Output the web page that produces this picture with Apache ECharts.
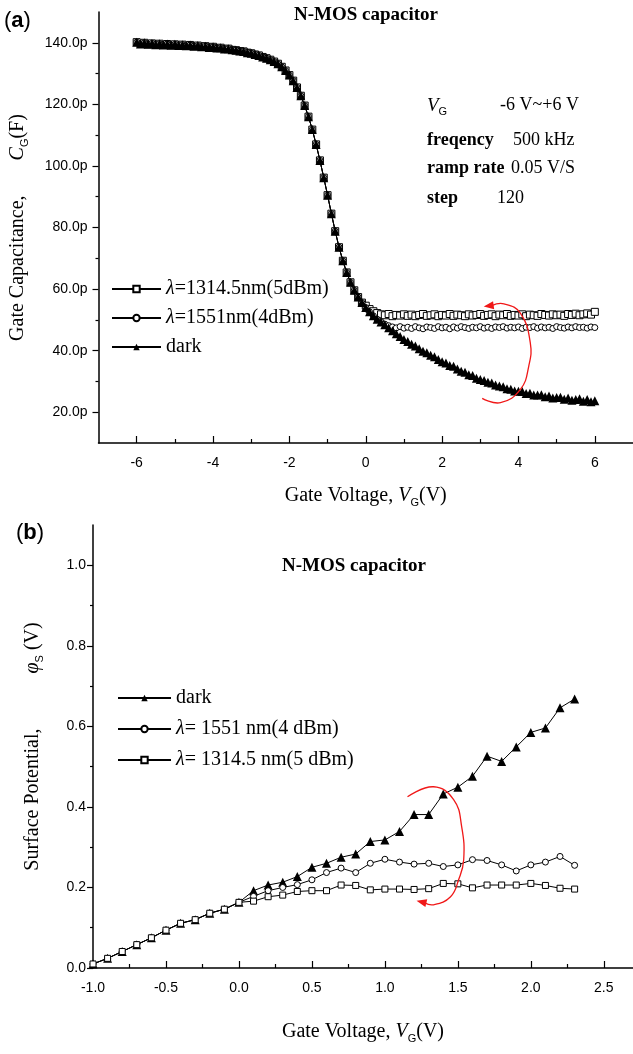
<!DOCTYPE html>
<html><head><meta charset="utf-8">
<script src="https://cdn.jsdelivr.net/npm/echarts@6/dist/echarts.min.js"></script>
<style>html,body{margin:0;padding:0;background:#fff}#c{width:633px;height:1054px}</style>
</head><body><div id="c"></div>
<script>
// ---------- Panel (a): C-V curves ----------
const vgA = [-6.0,-5.9,-5.8,-5.7,-5.6,-5.5,-5.4,-5.3,-5.2,-5.1,-5.0,-4.9,-4.8,-4.7,-4.6,-4.5,-4.4,-4.3,-4.2,-4.1,
-4.0,-3.9,-3.8,-3.7,-3.6,-3.5,-3.4,-3.3,-3.2,-3.1,-3.0,-2.9,-2.8,-2.7,-2.6,-2.5,-2.4,-2.3,-2.2,-2.1,
-2.0,-1.9,-1.8,-1.7,-1.6,-1.5,-1.4,-1.3,-1.2,-1.1,-1.0,-0.9,-0.8,-0.7,-0.6,-0.5,-0.4,-0.3,-0.2,-0.1,
0.0,0.1,0.2,0.3,0.4,0.5,0.6,0.7,0.8,0.9,1.0,1.1,1.2,1.3,1.4,1.5,1.6,1.7,1.8,1.9,
2.0,2.1,2.2,2.3,2.4,2.5,2.6,2.7,2.8,2.9,3.0,3.1,3.2,3.3,3.4,3.5,3.6,3.7,3.8,3.9,
4.0,4.1,4.2,4.3,4.4,4.5,4.6,4.7,4.8,4.9,5.0,5.1,5.2,5.3,5.4,5.5,5.6,5.7,5.8,5.9,6.0];
// dark capacitance (pF)
const darkA = [140.2,139.6,140.0,139.5,139.8,139.4,139.7,139.3,139.6,139.2,139.5,139.1,139.4,139.0,139.3,138.9,139.1,138.7,138.9,138.5,
138.7,138.3,138.4,138.0,138.1,137.7,137.6,137.3,137.2,136.8,136.6,136.2,135.9,135.4,135.0,134.5,133.9,133.2,132.2,131.0,
129.5,127.7,125.5,122.8,119.6,116.0,111.8,107.0,101.8,96.2,90.5,84.5,78.8,73.6,69.2,65.4,62.2,59.6,57.4,55.6,
54.0,52.6,51.3,50.2,49.3,48.4,47.4,46.5,45.5,44.6,43.6,43.0,42.1,41.5,40.6,39.8,39.3,38.5,38.0,37.1,
36.4,36.0,35.2,34.9,34.0,33.3,33.0,32.2,31.9,31.0,30.6,30.3,29.7,29.5,28.8,28.5,28.3,27.6,27.5,26.9,
26.8,26.7,26.1,26.2,25.6,25.6,25.7,25.0,25.3,24.6,24.8,24.9,24.2,24.6,23.9,24.1,24.4,23.6,24.1,23.4,23.7];
// lambda=1314.5 nm: identical to dark below 0 V (first 60 points), then these values from 0.0 V to 6.0 V
const sqTailA = [54.6,53.5,52.8,52.2,51.8,51.5,51.9,51.2,51.6,51.4,51.8,
51.3,51.7,51.2,51.6,51.9,51.3,51.5,51.8,51.2,51.6,
51.4,51.9,51.3,51.7,51.5,51.2,51.8,51.4,51.6,51.9,
51.3,51.6,51.8,51.2,51.7,51.5,51.9,51.3,51.6,51.4,
51.8,51.2,51.7,51.5,51.3,51.9,51.6,51.4,51.8,51.5,
51.7,51.3,51.9,51.6,52.0,51.5,51.8,52.1,51.7,52.6];
// lambda=1551 nm: identical to dark up to 0.3 V (first 64 points), then these values from 0.4 V to 6.0 V
const ciTailA = [49.4,48.6,48.1,47.7,47.4,47.8,47.3,
47.6,47.2,47.8,47.4,47.1,47.7,47.5,47.2,47.8,47.4,
47.6,47.1,47.7,47.3,47.8,47.5,47.2,47.6,47.4,47.8,
47.3,47.6,47.2,47.7,47.5,47.8,47.3,47.6,47.4,47.7,
47.2,47.6,47.5,47.8,47.3,47.7,47.4,47.6,47.2,47.8,
47.5,47.3,47.7,47.4,47.8,47.5,47.6,47.3,47.7,47.5];
const sqA = darkA.slice(0, 60).concat(sqTailA);
const ciA = darkA.slice(0, 64).concat(ciTailA);

const xLabelsA = [-6,-4,-2,0,2,4,6];
const xMinorA = [-5,-3,-1,1,3,5];
const yLabelsA = [20,40,60,80,100,120,140];
const yMinorA = [30,50,70,90,110,130];
const namesA = ['λ=1314.5nm(5dBm)', 'λ=1551nm(4dBm)', 'dark'];

// ---------- Panel (b): surface potential ----------
const vgB = [-1.0,-0.9,-0.8,-0.7,-0.6,-0.5,-0.4,-0.3,-0.2,-0.1,0.0,0.1,0.2,0.3,0.4,0.5,0.6,0.7,0.8,0.9,1.0,
1.1,1.2,1.3,1.4,1.5,1.6,1.7,1.8,1.9,2.0,2.1,2.2,2.3];
const darkB = [0.010,0.024,0.041,0.058,0.075,0.094,0.111,0.120,0.136,0.146,0.163,
0.192,0.206,0.213,0.227,0.250,0.260,0.275,0.283,0.314,0.318,
0.339,0.381,0.381,0.432,0.449,0.476,0.526,0.513,0.549,0.585,
0.596,0.646,0.668];
// light series coincide with dark from -1.0 V to 0.0 V (first 11 points), then:
const ciTailB = [0.178,0.192,0.200,0.207,0.219,0.237,0.248,0.237,0.260,0.270,
0.263,0.258,0.260,0.252,0.256,0.269,0.267,0.256,0.241,0.256,
0.263,0.277,0.255];
const sqTailB = [0.166,0.177,0.181,0.190,0.192,0.192,0.206,0.205,0.194,0.196,
0.196,0.195,0.197,0.210,0.209,0.199,0.206,0.206,0.206,0.210,
0.205,0.198,0.196];
const ciB = darkB.slice(0, 11).concat(ciTailB);
const sqB = darkB.slice(0, 11).concat(sqTailB);

const xLabelsB = [-1.0,-0.5,0.0,0.5,1.0,1.5,2.0,2.5];
const xMinorB = [-0.75,-0.25,0.25,0.75,1.25,1.75,2.25];
const yLabelsB = [0.0,0.2,0.4,0.6,0.8,1.0];
const yMinorB = [0.1,0.3,0.5,0.7,0.9];
const namesB = ['dark', 'λ= 1551 nm(4 dBm)', 'λ= 1314.5 nm(5 dBm)'];

// red rotation arrows (data coordinates of each panel)
const arrowA = [[3.05,24.5],[3.53,23.1],[4.05,27.4],[4.27,35.0],[4.31,42.5],[4.05,52.2],[3.62,55.2],[3.09,54.3]];
const arrowB = [[1.155,0.425],[1.333,0.450],[1.471,0.418],[1.526,0.351],[1.540,0.269],[1.505,0.219],[1.450,0.177],[1.333,0.157],[1.217,0.167]];

// ---------- chart ----------
const SERIF = '"Liberation Serif","Times New Roman",serif';
const SANS = '"Liberation Sans",Arial,sans-serif';
const pairs = (xs, ys) => xs.map((x, i) => [x, ys[i]]);

const axisLine = {show: true, onZero: false, lineStyle: {color: '#000', width: 1.5}};
const nameStyle = {color: '#000', fontFamily: SERIF, fontSize: 20,
  rich: {t: {fontFamily: SERIF, fontSize: 20, color: '#000'},
         i: {fontFamily: SERIF, fontStyle: 'italic', fontSize: 20, color: '#000'},
         s: {fontFamily: SANS, fontSize: 11, color: '#000', padding: [14, 0, 0, 0]}}};
function majorX(grid, min, max, vals, fmt, nameRich, gap) {
  return {gridIndex: grid, type: 'value', min, max, position: 'bottom',
    axisLine, splitLine: {show: false},
    axisTick: {show: true, inside: true, length: 7, lineStyle: {color: '#000', width: 1.2}, customValues: vals},
    axisLabel: {show: true, customValues: vals, formatter: fmt, color: '#000', fontFamily: SANS, fontSize: 14, margin: 13},
    name: nameRich, nameLocation: 'middle', nameGap: gap, nameTextStyle: nameStyle};
}
function minorX(grid, min, max, vals) {
  return {gridIndex: grid, type: 'value', min, max, position: 'bottom',
    axisLine: {show: false, onZero: false}, splitLine: {show: false},
    axisTick: {show: true, inside: true, length: 4, lineStyle: {color: '#000', width: 1.2}, customValues: vals},
    axisLabel: {show: false}};
}
function majorY(grid, min, max, vals, fmt, nameRich, gap, margin) {
  return {gridIndex: grid, type: 'value', min, max, position: 'left',
    axisLine, splitLine: {show: false},
    axisTick: {show: true, inside: false, length: 6, lineStyle: {color: '#000', width: 1.2}, customValues: vals},
    axisLabel: {show: true, customValues: vals, formatter: fmt, color: '#000', fontFamily: SANS, fontSize: 14, margin},
    name: nameRich, nameLocation: 'middle', nameGap: gap, nameRotate: 90, nameTextStyle: nameStyle};
}
function minorY(grid, min, max, vals) {
  return {gridIndex: grid, type: 'value', min, max, position: 'left',
    axisLine: {show: false, onZero: false}, splitLine: {show: false},
    axisTick: {show: true, inside: false, length: 3, lineStyle: {color: '#000', width: 1.2}, customValues: vals},
    axisLabel: {show: false}};
}

const mk = {
  rect: {symbol: 'rect', symbolSize: 6, itemStyle: {color: '#fff', borderColor: '#000', borderWidth: 1}},
  circle: {symbol: 'circle', symbolSize: 5, itemStyle: {color: '#fff', borderColor: '#000', borderWidth: 1}},
  tri: {symbol: 'triangle', symbolSize: 8, itemStyle: {color: '#000', borderColor: '#000', borderWidth: 0}}
};
function ser(name, xi, yi, data, m, size, z) {
  return Object.assign({type: 'line', name, xAxisIndex: xi, yAxisIndex: yi, data,
    showAllSymbol: true, lineStyle: {color: '#000', width: 1}, emphasis: {disabled: true}, z: z || 3},
    m, size ? {symbolSize: size} : {});
}

const legendText = {color: '#000', fontFamily: SERIF, fontSize: 20,
  rich: {i: {fontFamily: SERIF, fontStyle: 'italic', fontSize: 20, color: '#000'}}};
const fmtLegend = n => n.replace('λ', '{i|λ}');

const chart = echarts.init(document.getElementById('c'), null, {renderer: 'canvas'});
const option = {
  animation: false,
  backgroundColor: '#fff',
  grid: [
    {left: 98, top: 12, width: 535, height: 431},
    {left: 93, top: 525, width: 540, height: 443}
  ],
  xAxis: [
    majorX(0, -7, 7, xLabelsA, v => String(v), '{t|Gate Voltage, }{i|V}{s|G}{t|(V)}', 40),
    minorX(0, -7, 7, xMinorA),
    majorX(1, -1, 2.7, xLabelsB, v => v.toFixed(1), '{t|Gate Voltage, }{i|V}{s|G}{t|(V)}', 51),
    minorX(1, -1, 2.7, xMinorB)
  ],
  yAxis: [
    majorY(0, 10, 150, yLabelsA, v => v.toFixed(1) + 'p', '{t|Gate Capacitance,       }{i|C}{s|G}{t|(F)}', 68, 11),
    minorY(0, 10, 150, yMinorA),
    majorY(1, 0, 1.1, yLabelsB, v => v.toFixed(1), '{t|Surface Potential,           }{i|φ}{s|S}{t| (V)}', 48, 7),
    minorY(1, 0, 1.1, yMinorB)
  ],
  legend: [
    {orient: 'vertical', left: 111, top: 279, padding: 0, itemWidth: 49, itemHeight: 8, itemGap: 9,
     selectedMode: false, data: namesA, formatter: fmtLegend, textStyle: legendText},
    {orient: 'vertical', left: 117, top: 688, padding: 0, itemWidth: 53, itemHeight: 8, itemGap: 11,
     selectedMode: false, data: namesB, formatter: fmtLegend, textStyle: legendText}
  ],
  series: [
    ser(namesA[0], 0, 0, pairs(vgA, sqA), mk.rect, 7, 3),
    ser(namesA[1], 0, 0, pairs(vgA, ciA), mk.circle, 6, 3),
    ser(namesA[2], 0, 0, pairs(vgA, darkA), mk.tri, 9, 4),
    ser(namesB[0], 2, 2, pairs(vgB, darkB), mk.tri, 9, 3),
    ser(namesB[1], 2, 2, pairs(vgB, ciB), mk.circle, 6, 4),
    ser(namesB[2], 2, 2, pairs(vgB, sqB), mk.rect, 6, 4)
  ]
};
chart.setOption(option);

// ---------- text annotations & arrows ----------
function arrowGraphics(pts, seriesIndex) {
  const px = pts.map(p => chart.convertToPixel({seriesIndex}, p));
  const n = px.length;
  const tip = px[n - 1], prev = px[n - 2];
  const dx = tip[0] - prev[0], dy = tip[1] - prev[1];
  const L = Math.hypot(dx, dy) || 1, ux = dx / L, uy = dy / L;
  const len = 10, hw = 4;
  const bx = tip[0] - ux * len, by = tip[1] - uy * len;
  return [
    {type: 'polyline', shape: {points: px.slice(0, n - 1).concat([[bx + ux * 2, by + uy * 2]]), smooth: 0.45},
     style: {stroke: '#f01818', lineWidth: 1.3, fill: null}, z: 10},
    {type: 'polygon', shape: {points: [tip, [bx - uy * hw, by + ux * hw], [bx + uy * hw, by - ux * hw]]},
     style: {fill: '#f01818'}, z: 10}
  ];
}
const T = (x, y, text, font, extra) => Object.assign({type: 'text', x, y, z: 20,
  style: Object.assign({text, font, fill: '#000', verticalAlign: 'middle'}, extra || {})});

const serifRich = {
  v: {font: 'italic 19px ' + SERIF, fill: '#000'},
  s: {font: '11px ' + SANS, fill: '#000', padding: [12, 0, 0, 0]},
  p: {font: '22px ' + SANS, fill: '#000'},
  b: {font: 'bold 22px ' + SANS, fill: '#000'}
};

chart.setOption({graphic: [
  T(4, 21, '{p|(}{b|a}{p|)}', '22px ' + SANS, {rich: serifRich}),
  T(16, 533, '{p|(}{b|b}{p|)}', '22px ' + SANS, {rich: serifRich}),
  T(366, 15, 'N-MOS capacitor', 'bold 19px ' + SERIF, {align: 'center'}),
  T(354, 566, 'N-MOS capacitor', 'bold 19px ' + SERIF, {align: 'center'}),
  T(427, 106, '{v|V}{s|G}', '19px ' + SERIF, {rich: serifRich}),
  T(500, 105, '-6 V~+6 V', '18px ' + SERIF),
  T(427, 140, 'freqency', 'bold 18px ' + SERIF),
  T(513, 140, '500 kHz', '18px ' + SERIF),
  T(427, 168, 'ramp rate', 'bold 18px ' + SERIF),
  T(511, 168, '0.05 V/S', '18px ' + SERIF),
  T(427, 198, 'step', 'bold 18px ' + SERIF),
  T(497, 198, '120', '18px ' + SERIF)
].concat(arrowGraphics(arrowA, 0), arrowGraphics(arrowB, 3))});
</script></body></html>
